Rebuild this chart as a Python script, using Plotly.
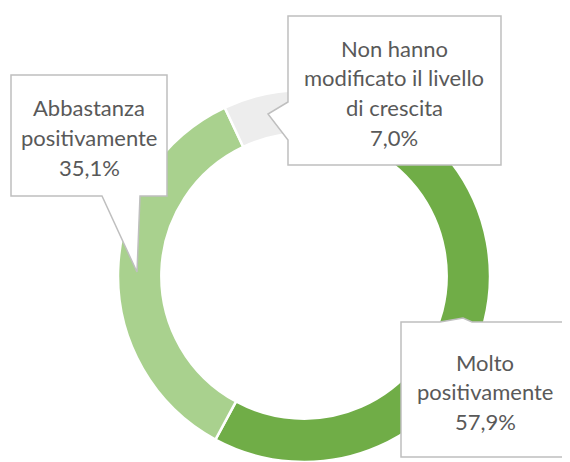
import plotly.graph_objects as go

# ---- data ----
categories = ["Molto positivamente", "Abbastanza positivamente",
              "Non hanno modificato il livello di crescita"]
values = [57.9, 35.1, 7.0]
label_lines = [["Molto", "positivamente"],
               ["Abbastanza", "positivamente"],
               ["Non hanno", "modificato il livello", "di crescita"]]
colors = ["#70AD47", "#A9D18E", "#EDEDED"]

# the page body has an 8px default margin: draw in a 562x454 figure and
# express target pixel positions relative to the window
OFF = 8
W, H = 570 - OFF, 462 - OFF


def px(x):
    return (x - OFF) / W


def py(y):
    return 1 - (y - OFF) / H


fig = go.Figure(go.Pie(
    labels=categories, values=values, hole=0.767, sort=False,
    direction="clockwise", rotation=0,
    marker=dict(colors=colors, line=dict(color="white", width=2.5)),
    textinfo="none", hoverinfo="label+percent", showlegend=False,
    domain=dict(x=[px(118), px(490)], y=[0, py(90)]),
))

# callout geometry (pixels): outline polygon, text centre x, first line y
callouts = [
    dict(poly=[(401, 322), (440, 322), (463, 318), (472, 322), (569, 322),
               (569, 457), (401, 457)], cx=485, y0=362),
    dict(poly=[(11, 75), (167, 75), (167, 196), (140, 196), (137, 272),
               (102, 196), (11, 196)], cx=89, y0=108),
    dict(poly=[(288, 16), (501, 16), (501, 165), (288, 165), (288, 140),
               (268, 114), (288, 102)], cx=394, y0=48),
]

shapes, annotations = [], []
step = 29.7
for i, c in enumerate(callouts):
    path = "M " + " L ".join(f"{px(x):.5f},{py(y):.5f}" for x, y in c["poly"]) + " Z"
    shapes.append(dict(type="path", xref="paper", yref="paper", path=path,
                       fillcolor="white", line=dict(color="#BFBFBF", width=1.5),
                       layer="above"))
    lines = label_lines[i] + [f"{values[i]:.1f}%".replace(".", ",")]
    for j, t in enumerate(lines):
        annotations.append(dict(
            text=t, x=px(c["cx"]), y=py(c["y0"] + j * step), xref="paper",
            yref="paper", xanchor="center", yanchor="middle", showarrow=False,
            font=dict(family="Lato", size=22, color="#595959")))

fig.update_layout(
    width=W, height=H, margin=dict(l=0, r=0, t=0, b=0),
    paper_bgcolor="white", plot_bgcolor="white",
    shapes=shapes, annotations=annotations,
)

fig.write_html("out.html")
